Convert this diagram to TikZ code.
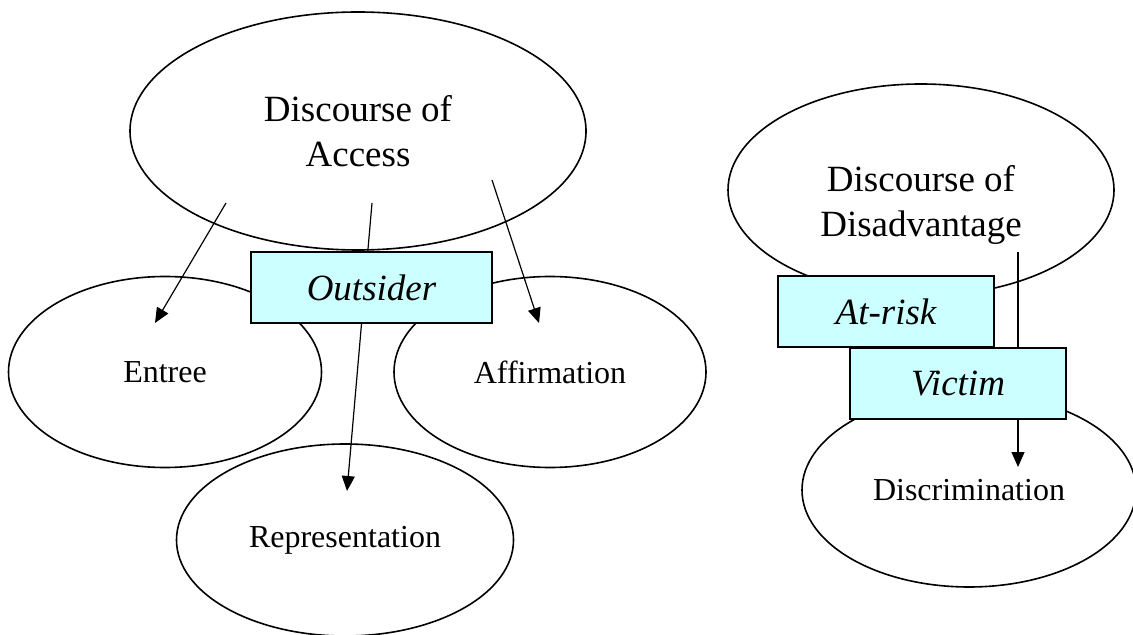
\documentclass[tikz,border=0pt]{standalone}
\usepackage{fontspec}
\setmainfont{Liberation Serif}
\usetikzlibrary{shapes.geometric,arrows.meta}
\definecolor{rolecyan}{RGB}{204,255,255}
\begin{document}
\begin{tikzpicture}[x=0.5pt,y=-0.5pt,
  oval/.style={draw,ellipse,line width=0.8pt,inner sep=0pt},
  bigtext/.style={font=\fontsize{18.5}{22.5}\selectfont,align=center},
  smalltext/.style={font=\fontsize{16}{19}\selectfont},
  rolebox/.style={draw,line width=1pt,fill=rolecyan,minimum width=108pt,minimum height=35.5pt,inner sep=0pt,font=\fontsize{18.5}{22.5}\selectfont\itshape},
  link/.style={line width=0.6pt,-{Triangle[length=7.5pt,width=6.5pt]}}]
\useasboundingbox (0,0) rectangle (1133,635);
\node[oval,bigtext,minimum width=228pt,minimum height=119pt] (access) at (358,131) {Discourse of\\Access};
\node[oval,smalltext,minimum width=156.5pt,minimum height=95.5pt] (entree) at (165,372) {Entree};
\node[oval,smalltext,minimum width=156pt,minimum height=95.5pt] (affirm) at (550,372) {Affirmation};
\node[oval,smalltext,minimum width=168.5pt,minimum height=96pt] (repr) at (345,540) {Representation};
\node[oval,minimum width=193pt,minimum height=106pt,label={[bigtext,yshift=-7.5pt]center:{Discourse of\\Disadvantage}}] (disadv) at (921,190) {};
\node[oval,smalltext,minimum width=167pt,minimum height=97pt] (discr) at (969,490) {Discrimination};
\coordinate (a1) at (226,203); \coordinate (e1) at (155,323);
\coordinate (a2) at (372,203); \coordinate (r1) at (347,491);
\coordinate (a3) at (492,180); \coordinate (f1) at (539,323);
\coordinate (d1) at (1018,252); \coordinate (c1) at (1018,467);
\foreach \s/\t in {a1/e1,a2/r1,a3/f1,d1/c1}\draw[link] (\s) -- (\t);
\node[rolebox,minimum width=120.5pt] (outsider) at (371.5,287.5) {Outsider};
\node[rolebox] (atrisk) at (886,311.5) {At-risk};
\node[rolebox] (victim) at (958,383.5) {Victim};
\end{tikzpicture}
\end{document}
